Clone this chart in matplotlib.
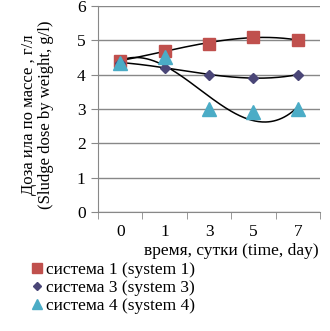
import numpy as np
import matplotlib
matplotlib.use("Agg")
import matplotlib.pyplot as plt

days = ["0", "1", "3", "5", "7"]
system1 = [4.4, 4.7, 4.9, 5.1, 5.0]
system3 = [4.35, 4.2, 4.0, 3.9, 4.0]
system4 = [4.35, 4.5, 3.0, 2.9, 3.0]

plt.rcParams['font.family'] = ['Liberation Serif', 'DejaVu Serif']

fig = plt.figure(figsize=(3.30, 3.31), dpi=100)
ax = fig.add_axes([0.297, 0.36, 0.673, 0.622])

pos = np.arange(len(days)) + 0.5
series = [
    (system1, 's', '#C0504D', 9, "система 1 (system 1)"),
    (system3, 'D', '#4A4677', 5.5, "система 3 (system 3)"),
    (system4, '^', '#4BACC6', 9.5, "система 4 (system 4)"),
]

# polynomial trendlines, like Excel
xs = np.linspace(pos[0], pos[-1], 200)
for vals, m, c, ms, lab in series:
    coef = np.polyfit(pos, vals, 3)
    ax.plot(xs, np.polyval(coef, xs), color='black', lw=1.1, zorder=2)

for vals, m, c, ms, lab in series:
    ax.plot(pos, vals, linestyle='none', marker=m, color=c, markersize=ms,
            label=lab, zorder=3)

ax.set_xlim(0, len(days))
ax.set_ylim(0, 6)
ax.set_yticks(range(7))
ax.set_xticks(pos)
ax.set_xticklabels(days)
ax.set_xticks(np.arange(len(days) + 1), minor=True)
ax.tick_params(axis='x', which='major', length=0, pad=9, labelsize=12.5)
ax.tick_params(axis='x', which='minor', length=5, direction='out', color='#888888')
ax.tick_params(axis='y', length=5, direction='out', color='#888888', labelsize=12.5, pad=4)
ax.grid(axis='y', color='#888888', lw=1)
ax.set_axisbelow(True)
for s in ['top', 'right']:
    ax.spines[s].set_visible(False)
for s in ['left', 'bottom']:
    ax.spines[s].set_color('#888888')

ax.set_ylabel("Доза ила по массе , г/л\n(Sludge dose by weight, g/l)", fontsize=12,
              linespacing=1.05)
ax.yaxis.set_label_coords(-0.2, 0.47)
ax.set_xlabel("время, сутки (time, day)", fontsize=12.5)
ax.xaxis.set_label_coords(0.6, -0.15)

fig.legend(loc='upper left', bbox_to_anchor=(0.07, 0.235), frameon=False,
           fontsize=12.5, handlelength=0.6, handletextpad=0.2, labelspacing=0.1,
           borderpad=0, markerscale=0.75)

fig.savefig("out.png", dpi=100)
